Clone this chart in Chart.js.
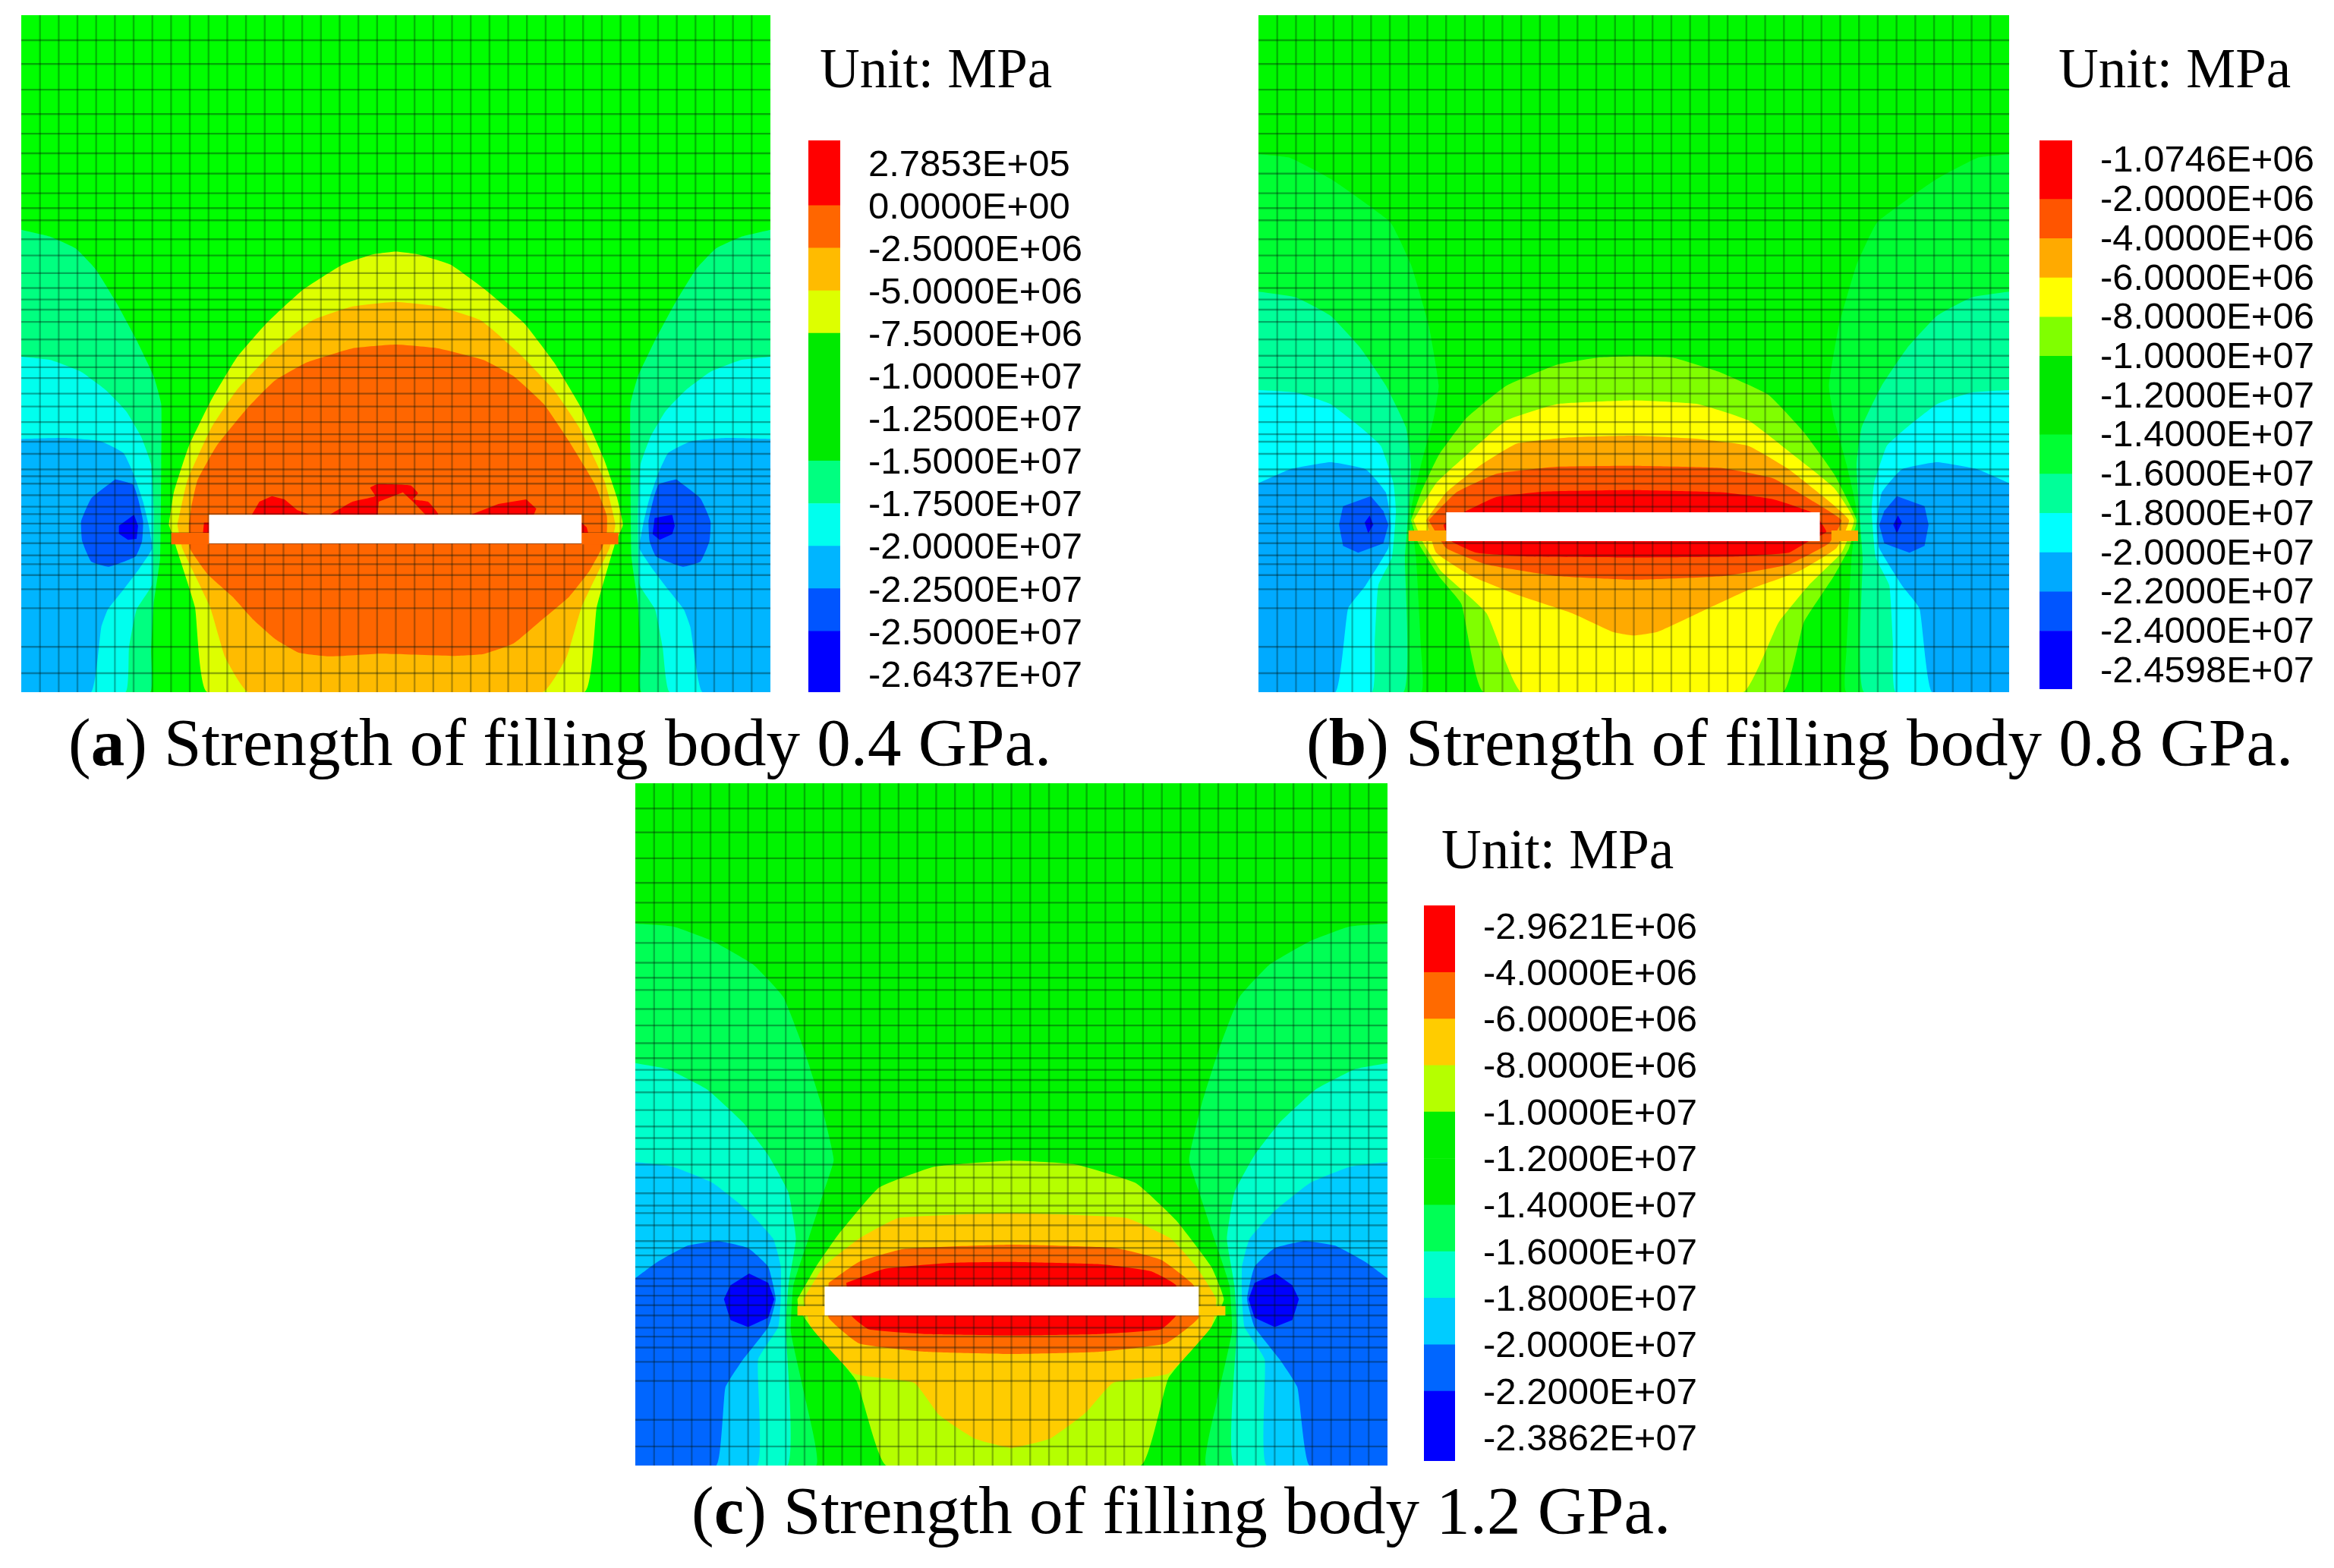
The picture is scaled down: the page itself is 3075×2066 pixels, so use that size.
<!DOCTYPE html>
<html><head><meta charset="utf-8"><title>Strength of filling body</title>
<script src="https://cdn.jsdelivr.net/npm/chart.js@4"></script>
<style>
html,body{margin:0;padding:0;background:#fff;width:3075px;height:2066px;overflow:hidden}
canvas{position:absolute;display:block}
canvas.map{filter:blur(.5px)}
canvas.key{filter:blur(.4px)}
.t{position:absolute;font-family:"Liberation Serif",serif;line-height:1;color:#000;white-space:nowrap}
.cap{font-size:89px}.unit{font-size:73px}
</style></head><body>
<div class="t unit" style="left:1080px;top:54px">Unit: MPa</div>
<div class="t unit" style="left:2712px;top:54px">Unit: MPa</div>
<div class="t unit" style="left:1899px;top:1083px">Unit: MPa</div>
<div class="t cap" style="left:90px;top:934px">(<b>a</b>) Strength of filling body 0.4 GPa.</div>
<div class="t cap" style="left:1721px;top:934px">(<b>b</b>) Strength of filling body 0.8 GPa.</div>
<div class="t cap" style="left:911px;top:1946px">(<b>c</b>) Strength of filling body 1.2 GPa.</div>
<script>
// Finite-element mesh lines (0-1000 across / down each panel)
const meshX=[25,50,75,100,125,150,175,200,225,250,275,300,325,350,375,400,425,450,475,500,525,550,575,600,625,650,675,700,725,750,775,800,825,850,875,900,925,950,975];
const meshY=[37,72,110,146,175,204,234,263,285,303,331,355,381,403,420,435,453,479,503,520,536,559,578,601,619,630,648,671,681,692,709,726,737,751,765,780,798,811,827,848,876,933,972];

// Legend text
const aLabels=["2.7853E+05","0.0000E+00","-2.5000E+06","-5.0000E+06","-7.5000E+06","-1.0000E+07","-1.2500E+07","-1.5000E+07","-1.7500E+07","-2.0000E+07","-2.2500E+07","-2.5000E+07","-2.6437E+07"];
const bLabels=["-1.0746E+06","-2.0000E+06","-4.0000E+06","-6.0000E+06","-8.0000E+06","-1.0000E+07","-1.2000E+07","-1.4000E+07","-1.6000E+07","-1.8000E+07","-2.0000E+07","-2.2000E+07","-2.4000E+07","-2.4598E+07"];
const cLabels=["-2.9621E+06","-4.0000E+06","-6.0000E+06","-8.0000E+06","-1.0000E+07","-1.2000E+07","-1.4000E+07","-1.6000E+07","-1.8000E+07","-2.0000E+07","-2.2000E+07","-2.3862E+07"];
const aTicks=[12.37,11.37,10.37,9.37,8.37,7.37,6.37,5.37,4.37,3.37,2.37,1.37,0.37];
const bTicks=[13.44,12.44,11.44,10.44,9.44,8.44,7.44,6.44,5.44,4.44,3.44,2.44,1.44,0.44];
const cTicks=[11.45,10.45,9.45,8.45,7.45,6.45,5.45,4.45,3.45,2.45,1.45,0.45];
const aBands=[1.53,1,1,1,1,1,1,1,1,1,1,1.43];
const bBands=[1.5,1,1,1,1,1,1,1,1,1,1,1,1.48];
const cBands=[1.44,1,1,1,1,1,1,1,1,1,1.5];
const aBandColors=['#ff0000','#ff6600','#ffbb00','#ddff00','#00ea00','#00ea00','#00ea00','#00ff80','#00ffee','#00b5ff','#0055ff','#0000ff'];
const bBandColors=['#ff0000','#ff5500','#ffaa00','#ffff00','#80ff00','#00e800','#00e800','#00ff33','#00ff99','#00ffff','#00aaff','#0055ff','#0000ff'];
const cBandColors=['#ff0000','#ff6a00','#ffcc00','#b5ff00','#00ee00','#00ee00','#00ff55','#00ffcc','#00ccff','#0066ff','#0000ff'];

// Panel (a) contour outlines
const aSpringL=[42,495,100,510,150,535,190,580,230,650,270,730,305,810,320,870,320,1000,318,1200,305,1300,300,1400,298,1490,42,1490];
const aSpringR=[1530,495,1472,510,1422,535,1382,580,1342,650,1302,730,1267,810,1252,870,1252,1000,1254,1200,1267,1300,1272,1400,1274,1490,1530,1490];
const aCyanL=[42,768,100,775,160,800,210,840,250,885,280,940,300,1000,305,1100,302,1258,271,1312,256,1394,249,1490,42,1490];
const aCyanR=[1530,768,1472,775,1412,800,1362,840,1322,885,1292,940,1272,1000,1267,1100,1270,1258,1301,1312,1316,1394,1330,1490,1530,1490];
const aBlueL=[42,945,130,943,200,950,245,975,265,1020,284,1080,295,1130,302,1181,276,1225,246,1268,214,1312,201,1350,181,1490,42,1490];
const aBlueR=[1530,945,1442,943,1372,950,1327,975,1307,1020,1288,1080,1277,1130,1270,1181,1296,1225,1326,1268,1358,1312,1371,1350,1395,1490,1530,1490];
const aDeepL=[229,1032,264,1043,274,1073,284,1122,282,1165,269,1198,216,1220,181,1209,163,1165,161,1122,181,1073];
const aDeepR=[1343,1032,1308,1043,1298,1073,1288,1122,1290,1165,1303,1198,1356,1220,1391,1209,1409,1165,1411,1122,1391,1073];
const aCoreL=[266,1108,274,1132,271,1160,254,1162,236,1149,236,1132];
const aCoreR=[1335,1108,1340,1132,1335,1150,1310,1162,1296,1150,1300,1115];
const aYellow=[335,1130,345,1060,375,960,420,860,470,770,530,695,600,625,680,570,740,548,786,542,830,548,895,570,965,625,1040,695,1100,780,1155,880,1200,990,1225,1070,1237,1130,1220,1175,1185,1307,1160,1490,412,1490,387,1307,349,1176,340,1145];
const aOrange=[352,1130,372,1034,420,920,470,840,540,760,620,690,700,660,786,650,870,660,955,690,1030,760,1100,840,1150,920,1200,1034,1222,1130,1210,1181,1155,1307,1125,1415,1078,1490,493,1490,447,1415,417,1307,362,1181];
const aRedOrange=[380,1090,392,1034,430,960,490,880,545,820,610,780,700,750,786,742,870,750,960,775,1020,810,1080,870,1130,950,1180,1040,1205,1110,1205,1150,1195,1181,1170,1230,1130,1285,1070,1340,1020,1385,960,1408,900,1412,786,1408,754,1407,654,1413,593,1405,548,1377,503,1334,462,1285,412,1236,377,1181,375,1130];
const aRedA=[500,1108,515,1080,540,1068,565,1075,590,1098,615,1108];
const aRedB=[655,1108,700,1080,745,1068,735,1050,750,1042,815,1045,830,1062,820,1075,850,1080,870,1108];
const aRedHole=[750,1108,752,1080,800,1060,820,1080,845,1108];
const aRedC=[935,1108,990,1085,1045,1075,1065,1095,1060,1108];
const aRedEndL=[405,1125,415,1125,415,1147,403,1147];
const aRedEndR=[1155,1125,1165,1135,1168,1147,1155,1147];
const aStripL=[340,1147,415,1147,415,1172,340,1172];
const aStripR=[1155,1147,1228,1147,1228,1172,1155,1172];
const aSlit=[415,1108,1155,1108,1155,1170,415,1170];

// Panel (b) contour outlines
const bGreenL=[27,332,90,340,170,385,230,430,290,480,330,570,365,700,385,830,375,900,350,1000,330,1100,340,1200,350,1400,350,1490,27,1490];
const bGreenR=[1518,332,1455,340,1375,385,1315,430,1255,480,1215,570,1180,700,1160,830,1170,900,1195,1000,1215,1100,1205,1200,1195,1400,1195,1490,1518,1490];
const bSpringL=[27,628,100,640,170,680,230,750,280,830,320,920,330,1000,325,1100,318,1200,315,1490,27,1490];
const bSpringR=[1518,628,1445,640,1375,680,1315,750,1265,830,1225,920,1215,1000,1220,1100,1227,1200,1230,1490,1518,1490];
const bCyanL=[27,840,100,845,170,870,230,920,270,960,295,1040,300,1100,292,1200,265,1260,258,1380,252,1490,27,1490];
const bCyanR=[1518,840,1445,845,1375,870,1315,920,1275,960,1250,1040,1245,1100,1253,1200,1280,1260,1287,1380,1293,1490,1518,1490];
const bBlueL=[27,1040,90,1010,170,995,240,1010,280,1060,290,1130,285,1180,240,1260,205,1310,180,1490,27,1490];
const bBlueR=[1518,1040,1455,1010,1375,995,1305,1010,1265,1060,1255,1130,1260,1180,1305,1260,1340,1310,1365,1490,1518,1490];
const bDeepL=[250,1068,275,1100,285,1130,275,1170,225,1190,195,1175,187,1130,195,1090];
const bDeepR=[1295,1068,1270,1100,1260,1130,1270,1170,1320,1190,1350,1175,1358,1130,1350,1090];
const bCoreL=[248,1110,255,1130,245,1148,238,1125];
const bCoreR=[1297,1110,1305,1125,1295,1148,1288,1130];
const bLime=[330,1120,350,1060,385,980,440,900,520,830,620,785,700,770,772,767,850,770,940,800,1040,850,1110,930,1170,1020,1215,1120,1200,1180,1170,1240,1110,1340,1068,1490,475,1490,430,1300,385,1240,345,1170];
const bYellow=[335,1120,380,1040,440,980,520,905,620,870,772,862,900,870,1000,905,1090,980,1170,1050,1210,1120,1185,1190,1120,1260,1060,1340,990,1490,550,1490,480,1320,390,1230,355,1170];
const bOrange=[360,1120,400,1060,470,1000,540,955,640,942,772,938,900,945,1000,960,1080,1010,1150,1070,1200,1120,1175,1180,1100,1230,1000,1270,900,1320,820,1360,772,1368,730,1360,650,1320,540,1280,450,1240,380,1190];
const bRedOrange=[365,1120,420,1060,500,1020,620,1005,772,1003,950,1008,1050,1030,1130,1080,1185,1120,1160,1170,1080,1215,950,1240,772,1248,620,1240,480,1215,400,1180];
const bRed=[440,1100,500,1070,600,1058,772,1055,950,1060,1050,1075,1130,1105,1155,1145,1120,1165,1080,1190,980,1198,772,1200,560,1198,460,1190,410,1165,395,1130];
const bStripL=[325,1142,400,1142,400,1165,325,1165];
const bStripR=[1165,1142,1218,1142,1218,1165,1165,1165];
const bSlit=[400,1103,1142,1103,1142,1165,400,1165];

// Panel (c) contour outlines
const cGreenL=[26,322,100,328,180,360,260,410,320,480,360,590,395,710,420,830,400,900,370,1000,340,1100,335,1200,365,1350,385,1488,26,1488];
const cGreenR=[1520,322,1446,328,1366,360,1286,410,1226,480,1186,590,1151,710,1126,830,1146,900,1176,1000,1206,1100,1211,1200,1181,1350,1161,1488,1520,1488];
const cAquaL=[26,622,90,635,170,680,240,750,290,820,330,900,345,1000,330,1100,325,1190,328,1488,26,1488];
const cAquaR=[1520,622,1456,635,1376,680,1306,750,1256,820,1216,900,1201,1000,1216,1100,1221,1190,1216,1488,1520,1488];
const cSkyL=[26,835,100,845,180,880,250,940,300,1000,315,1060,315,1130,310,1190,270,1260,268,1488,26,1488];
const cSkyR=[1520,835,1446,845,1366,880,1296,940,1246,1000,1231,1060,1231,1130,1236,1190,1276,1260,1280,1488,1520,1488];
const cDeepL=[26,1085,70,1050,130,1015,190,1005,250,1020,290,1060,305,1130,290,1190,240,1260,205,1320,187,1488,26,1488];
const cDeepR=[1520,1085,1476,1050,1416,1015,1356,1005,1296,1020,1256,1060,1241,1130,1256,1190,1306,1260,1341,1320,1365,1488,1520,1488];
const cCoreL=[252,1075,290,1095,302,1130,290,1170,250,1190,215,1175,202,1130,215,1100];
const cCoreR=[1298,1075,1331,1100,1344,1130,1331,1175,1296,1190,1256,1170,1244,1130,1256,1095];
const cLime=[348,1130,385,1060,430,990,510,890,620,845,773,832,900,840,1020,880,1100,960,1170,1060,1195,1130,1170,1190,1085,1300,1030,1488,525,1488,465,1305,375,1190,350,1150];
const cAmber=[360,1130,400,1060,470,1000,550,955,773,945,1000,955,1090,1000,1140,1060,1180,1130,1170,1190,1085,1290,975,1310,920,1375,850,1430,773,1450,700,1430,630,1380,580,1310,460,1290,375,1190];
const cRedOrange=[410,1095,470,1050,560,1022,773,1013,980,1020,1070,1045,1135,1100,1145,1170,1080,1225,950,1243,773,1248,600,1243,470,1225,410,1170];
const cRed=[445,1095,520,1065,650,1052,773,1050,950,1055,1050,1070,1100,1100,1100,1165,1070,1195,950,1205,773,1208,600,1205,490,1195,455,1165];
const cStripL=[348,1145,402,1145,402,1165,348,1165];
const cStripR=[1145,1145,1198,1145,1198,1165,1145,1165];
const cSlit=[402,1103,1145,1103,1145,1165,402,1165];

function pts(flat){const r=[];for(let i=0;i<flat.length;i+=2)r.push({x:flat[i],y:flat[i+1]});r.push(r[0]);return r;}
function shape(flat,color){return {data:pts(flat),showLine:true,fill:'shape',backgroundColor:color,borderColor:color,borderWidth:0,pointRadius:0,tension:flat.length>16?0.12:0,xAxisID:'x',yAxisID:'y'};}
function meshLine(a,b,alpha){return {data:[a,b],showLine:true,fill:false,borderColor:'rgba(0,20,10,'+alpha+')',borderWidth:2.4,pointRadius:0,tension:0,xAxisID:'mx',yAxisID:'my'};}

function mapChart(box,range,under,over){
  const c=document.createElement('canvas');c.className='map';
  c.width=box[2];c.height=box[3];
  c.style.left=box[0]+'px';c.style.top=box[1]+'px';
  document.body.appendChild(c);
  const lines=[...meshX.map(v=>meshLine({x:v,y:0},{x:v,y:1000},.3)),...meshY.map(v=>meshLine({x:0,y:v},{x:1000,y:v},.36))];
  const ds=[...under.map(l=>shape(l[0],l[1])),...lines,...over.map(l=>shape(l[0],l[1]))];
  ds.forEach((d,i)=>d.order=ds.length-i);
  const hide={display:false,type:'linear'};
  new Chart(c,{type:'scatter',data:{datasets:ds},options:{responsive:false,animation:false,devicePixelRatio:1,
    layout:{padding:0},plugins:{legend:{display:false},tooltip:{enabled:false}},
    scales:{x:{...hide,axis:'x',min:range[0],max:range[1]},y:{...hide,axis:'y',min:range[2],max:range[3],reverse:true},
      mx:{...hide,axis:'x',min:0,max:1000},my:{...hide,axis:'y',min:0,max:1000,reverse:true}}}});
}
function keyChart(box,bands,colors,ticks,labels){
  const pad=40,lw=390;
  const c=document.createElement('canvas');c.className='key';
  c.width=box[2]+lw;c.height=box[3]+pad*2;
  c.style.left=box[0]+'px';c.style.top=(box[1]-pad)+'px';
  document.body.appendChild(c);
  const total=bands.reduce((s,v)=>s+v,0);
  const ds=bands.map((h,i)=>({data:[h],backgroundColor:colors[i],stack:'k',barPercentage:1,categoryPercentage:1,borderWidth:0})).reverse();
  new Chart(c,{type:'bar',data:{labels:[''],datasets:ds},options:{responsive:false,animation:false,devicePixelRatio:1,
    layout:{padding:{top:pad,bottom:pad,left:0,right:0}},plugins:{legend:{display:false},tooltip:{enabled:false}},
    scales:{x:{display:false,stacked:true},
      y:{position:'right',stacked:true,min:0,max:total,grid:{display:false,drawTicks:false},border:{display:false},
        afterBuildTicks:s=>{s.ticks=ticks.map(v=>({value:v}));},
        afterFit:s=>{s.width=lw;s.paddingTop=0;s.paddingBottom=0;},
        ticks:{autoSkip:false,padding:37,color:'#000',font:{family:'"Liberation Sans",Arial,sans-serif',size:49},
          callback:(v,i)=>labels[i]}}}}});
}

mapChart([28,20,987,892],[42,1530,33,1490],[
 [[42,33,1530,33,1530,1490,42,1490],'#00ff00'],
 [aSpringL,'#00ff80'],[aSpringR,'#00ff80'],[aCyanL,'#00ffee'],[aCyanR,'#00ffee'],
 [aBlueL,'#00b5ff'],[aBlueR,'#00b5ff'],[aDeepL,'#0055ff'],[aDeepR,'#0055ff'],[aCoreL,'#0000ff'],[aCoreR,'#0000ff'],
 [aYellow,'#ddff00'],[aOrange,'#ffbb00'],[aRedOrange,'#ff6600'],
 [aRedA,'#ff0000'],[aRedB,'#ff0000'],[aRedHole,'#ff6600'],[aRedC,'#ff0000'],[aRedEndL,'#ff0000'],[aRedEndR,'#ff0000']
],[[aStripL,'#ff6600'],[aStripR,'#ff6600'],[aSlit,'#ffffff']]);

mapChart([1658,20,989,892],[27,1518,33,1490],[
 [[27,33,1518,33,1518,1490,27,1490],'#00f800'],
 [bGreenL,'#00ff33'],[bGreenR,'#00ff33'],[bSpringL,'#00ff99'],[bSpringR,'#00ff99'],[bCyanL,'#00ffff'],[bCyanR,'#00ffff'],
 [bBlueL,'#00aaff'],[bBlueR,'#00aaff'],[bDeepL,'#0055ff'],[bDeepR,'#0055ff'],[bCoreL,'#0000ff'],[bCoreR,'#0000ff'],
 [bLime,'#80ff00'],[bYellow,'#ffff00'],[bOrange,'#ffaa00'],[bRedOrange,'#ff5500'],[bRed,'#ff0000']
],[[bStripL,'#ffaa00'],[bStripR,'#ffaa00'],[bSlit,'#ffffff']]);

mapChart([837,1032,991,899],[26,1520,20,1488],[
 [[26,20,1520,20,1520,1488,26,1488],'#00f400'],
 [cGreenL,'#00ff55'],[cGreenR,'#00ff55'],[cAquaL,'#00ffcc'],[cAquaR,'#00ffcc'],[cSkyL,'#00ccff'],[cSkyR,'#00ccff'],
 [cDeepL,'#0066ff'],[cDeepR,'#0066ff'],[cCoreL,'#0000ff'],[cCoreR,'#0000ff'],
 [cLime,'#b5ff00'],[cAmber,'#ffcc00'],[cRedOrange,'#ff6a00'],[cRed,'#ff0000']
],[[cStripL,'#ffcc00'],[cStripR,'#ffcc00'],[cSlit,'#ffffff']]);

keyChart([1065,185,42,727],aBands,aBandColors,aTicks,aLabels);
keyChart([2687,185,43,723],bBands,bBandColors,bTicks,bLabels);
keyChart([1876,1193,41,732],cBands,cBandColors,cTicks,cLabels);
</script>
</body></html>
